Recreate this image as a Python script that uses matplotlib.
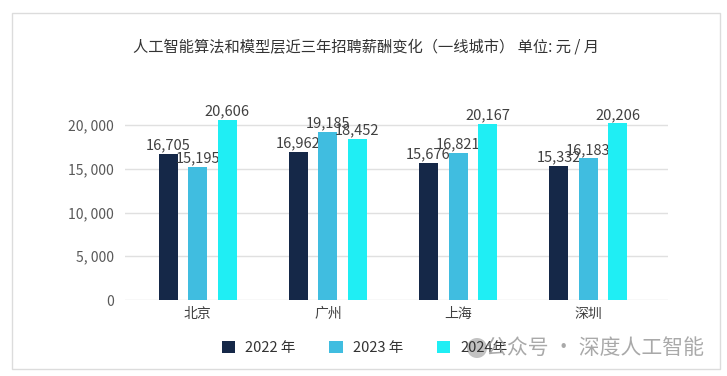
"""
AI algorithm / model layer salary change over 3 years, tier-1 cities.
Grouped bars, one group per city, one bar per year.
"""
import matplotlib
matplotlib.use("Agg")
import matplotlib.pyplot as plt
from matplotlib.patches import Rectangle, Patch, Ellipse
from matplotlib.ticker import FuncFormatter
import numpy as np

plt.rcParams["font.family"] = ["Noto Sans CJK SC", "DejaVu Sans"]

cities = ["北京", "广州", "上海", "深圳"]
years = ["2022 年", "2023 年", "2024年"]
salary_2022 = [16705, 16962, 15676, 15332]
salary_2023 = [15195, 19185, 16821, 16183]
salary_2024 = [20606, 18452, 20167, 20206]
yticks = [0, 5000, 10000, 15000, 20000]

colors = ["#152848", "#40BDE0", "#1FEEF4"]
series = [salary_2022, salary_2023, salary_2024]

fig = plt.figure(figsize=(7.27, 3.76), dpi=100)
ax = fig.add_axes([0.172, 0.202, 0.747, 0.532])

x = np.arange(len(cities))
offsets = [-0.227, 0.0, 0.227]
width = 0.146

for vals, off, c, lab in zip(series, offsets, colors, years):
    bars = ax.bar(x + off, vals, width=width, color=c, label=lab, zorder=3)
    for b, v in zip(bars, vals):
        ax.annotate(f"{v:,}", (b.get_x() + b.get_width() / 2, v),
                    xytext=(0, 1), textcoords="offset points",
                    ha="center", va="bottom", fontsize=10.5, color="#404040")

ax.set_xlim(-0.56, 3.615)
ax.set_ylim(0, 22857)
ax.set_yticks(yticks)
ax.yaxis.set_major_formatter(FuncFormatter(lambda v, p: f"{int(v):,}".replace(",", ", ")))
ax.set_xticks(x)
ax.set_xticklabels(cities)
ax.tick_params(axis="both", length=0, labelsize=10, labelcolor="#595959")
ax.tick_params(axis="y", pad=8)
ax.tick_params(axis="x", pad=5, labelcolor="#404040")
ax.grid(axis="y", color="#e0e0e0", linewidth=1, zorder=0)
for s in ax.spines.values():
    s.set_visible(False)

fig.text(0.503, 0.875, "人工智能算法和模型层近三年招聘薪酬变化（一线城市） 单位: 元 / 月",
         ha="center", va="center", fontsize=11, color="#333333")

handles = [Patch(facecolor=c, label=l) for c, l in zip(colors, years)]
fig.legend(handles=handles, loc="center left", bbox_to_anchor=(222 / 727, 0.074), ncol=3,
           frameon=False, fontsize=10.5, handlelength=0.9, handleheight=0.9,
           columnspacing=2.3, handletextpad=0.7, labelcolor="#333333",
           borderaxespad=0, borderpad=0)

# watermark with its round icon
fig.add_artist(Ellipse((477 / 727, 1 - 348 / 376), 20 / 727, 20 / 376,
                       transform=fig.transFigure, facecolor="#9a9a9a",
                       edgecolor="none", alpha=0.6, zorder=5))
fig.text(0.968, 0.074, "公众号 · 深度人工智能", ha="right", va="center",
         fontsize=15, color="#9a9a9a", alpha=0.85, zorder=6)

# light frame around the whole card
fig.add_artist(Rectangle((12 / 727, 1 - 369 / 376), (720 - 12) / 727, (369 - 13) / 376,
                         transform=fig.transFigure, fill=False,
                         edgecolor="#dcdcdc", linewidth=1))

fig.savefig("out.png", dpi=100)
